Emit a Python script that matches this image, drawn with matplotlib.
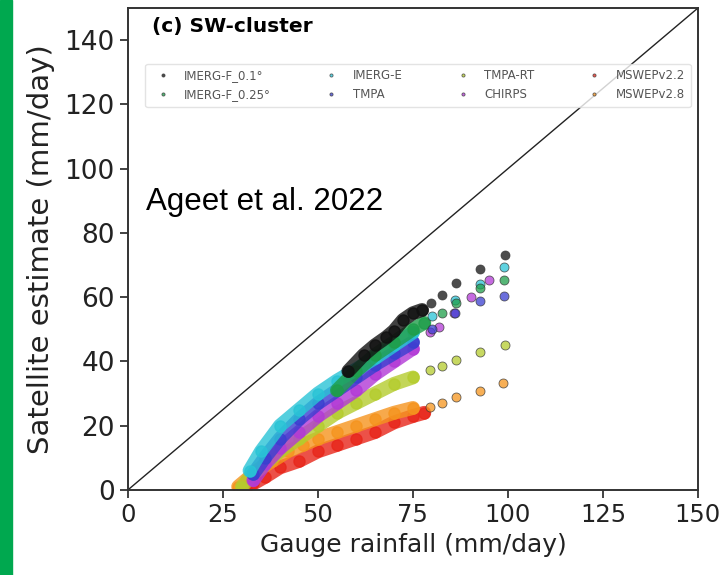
import matplotlib
matplotlib.use("Agg")
from matplotlib import pyplot as plt
from matplotlib.patches import Rectangle

# quantile pairs (gauge, satellite), mm/day
red_x = [31, 33, 36, 40, 45, 50, 55, 60, 65, 70, 75, 78]
red_y = [0.5, 2, 4, 7, 9, 12, 14, 16, 18, 21, 23, 24]

orange_x = [29, 31, 34, 38, 42, 46, 50, 55, 60, 65, 70, 75, 79.5, 82.6, 86.3, 92.6, 98.7]
orange_y = [1, 3, 6, 9, 12, 14, 16, 18, 20, 22, 24, 25.5, 25.8, 27.1, 29, 30.8, 33.3]

ygreen_x = [30, 33, 36, 40, 45, 50, 55, 60, 65, 70, 75, 79.5, 82.6, 86.3, 92.6, 99.2]
ygreen_y = [1, 5, 8, 12, 16, 20, 24, 27, 30, 33, 35, 37.3, 38.6, 40.5, 43, 45.1]

purple_x = [33, 36, 40, 45, 50, 55, 60, 65, 70, 75, 79.5, 81.8, 85.8, 90.3, 95]
purple_y = [3, 8, 13, 18, 23, 27, 31, 36, 40, 44, 49.2, 50.7, 55.1, 60.1, 65.4]

blue_x = [33, 36, 40, 45, 50, 55, 60, 65, 70, 75, 80, 86, 92.6, 99]
blue_y = [5, 10, 16, 22, 27, 31, 35, 39, 42.5, 46, 50, 55, 58.8, 60.4]

cyan_x = [32, 35, 40, 45, 50, 55, 60, 65, 70, 75, 80, 86, 92.6, 99]
cyan_y = [6, 12, 20, 25, 30, 34, 37.5, 41, 45, 49, 54, 59, 64, 69.4]

green_x = [55, 60, 65, 70, 75, 78, 82.6, 86.3, 92.6, 99]
green_y = [31, 37, 42, 46, 50, 52, 55, 58.2, 62.9, 65.4]

black_x = [58, 62, 65, 68, 70, 72.4, 75, 77.4, 79.7, 82.6, 86.3, 92.6, 99.2]
black_y = [37, 42, 45, 47.5, 49.5, 52.9, 55, 56, 58.2, 60.7, 64.4, 68.8, 73.1]

# draw order bottom -> top
series = [
    ("MSWEPv2.2", "#e8261a", red_x, red_y),
    ("MSWEPv2.8", "#f5941e", orange_x, orange_y),
    ("TMPA-RT", "#b5cc2e", ygreen_x, ygreen_y),
    ("CHIRPS", "#b23ad6", purple_x, purple_y),
    ("TMPA", "#3a3fd0", blue_x, blue_y),
    ("IMERG-E", "#29c4d6", cyan_x, cyan_y),
    ("IMERG-F_0.25°", "#1f9e4a", green_x, green_y),
    ("IMERG-F_0.1°", "#111111", black_x, black_y),
]
legend_order = ["IMERG-F_0.1°", "IMERG-F_0.25°", "IMERG-E", "TMPA",
                "TMPA-RT", "CHIRPS", "MSWEPv2.2", "MSWEPv2.8"]

fig = plt.figure(figsize=(7.27, 5.75), dpi=100)
ax = fig.add_axes([0.176, 0.148, 0.784, 0.838])

handles = {}
for name, col, xs, ys in series:
    dense = [(x, y) for x, y in zip(xs, ys) if x <= 78]
    tail = [(x, y) for x, y in zip(xs, ys) if x > 78]
    ax.plot([p[0] for p in dense], [p[1] for p in dense], 'o-', color=col,
            lw=10, ms=8, mec=col, alpha=0.8, solid_capstyle='round', zorder=2)
    h, = ax.plot([p[0] for p in tail], [p[1] for p in tail], 'o', ms=6.5,
                 mfc=col, mec='#333333', mew=0.6, alpha=0.75, zorder=3, label=name)
    handles[name] = h

ax.plot([0, 150], [0, 150], color='#222222', lw=1.0, zorder=1)
ax.set_xlim(0, 150)
ax.set_ylim(0, 150)
ax.set_xticks([0, 25, 50, 75, 100, 125, 150])
ax.set_yticks([0, 20, 40, 60, 80, 100, 120, 140])
ax.tick_params(length=6, width=1.2, colors='#222222')
ax.tick_params(axis='x', labelsize=17.5)
ax.tick_params(axis='y', labelsize=19)
for s in ax.spines.values():
    s.set_linewidth(1.4)
    s.set_color('#333333')
ax.set_xlabel('Gauge rainfall (mm/day)', fontsize=18, color='#222222', labelpad=4)
ax.set_ylabel('Satellite estimate (mm/day)', fontsize=21, color='#222222', labelpad=7)

ax.text(0.043, 0.982, '(c) SW-cluster', transform=ax.transAxes,
        fontsize=14.5, fontweight='bold', va='top', ha='left')

leg = ax.legend([handles[n] for n in legend_order], legend_order, ncol=4,
                loc='upper left', bbox_to_anchor=(0.02, 0.897), fontsize=8.5,
                markerscale=0.35, handlelength=2.0, handletextpad=0.8,
                columnspacing=4.1, frameon=True, borderpad=0.5)
leg.get_frame().set_edgecolor('#dddddd')
for t in leg.get_texts():
    t.set_color('#555555')

fig.text(146 / 727, 1 - 210 / 575, 'Ageet et al. 2022', fontsize=22.5,
         family='Liberation Sans', va='baseline', ha='left')

fig.patches.append(Rectangle((0, 0), 12 / 727, 1, transform=fig.transFigure,
                             color='#00a84f', zorder=0))

fig.savefig('out.png', dpi=100)
